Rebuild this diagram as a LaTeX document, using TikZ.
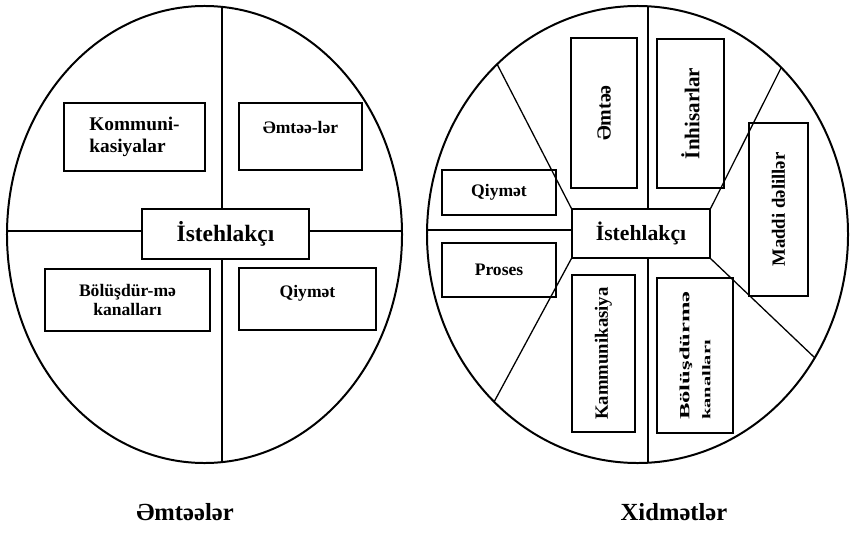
\documentclass[tikz,border=0pt]{standalone}
\usepackage{fontspec}
\setmainfont{Liberation Serif}
\newfontfamily\wideserif[FakeStretch=1.75]{Liberation Serif}
\tikzset{
    % Box styles
    part box/.style={
        draw,
        line width=1.1pt,
        rectangle,
        inner sep=0pt,
        align=center,
        font=\fontsize{15}{18}\selectfont\bfseries
    },
    core box/.style={
        part box,
        font=\fontsize{20}{22}\selectfont\bfseries
    },
    side box/.style={
        part box,
        rotate=90
    },
    % Line styles
    split line/.style={
        line width=1.1pt
    },
    oval line/.style={
        line width=1.7pt
    },
    % Captions
    caption/.style={
        font=\fontsize{21}{23}\selectfont\bfseries
    }
}

\begin{document}
\begin{tikzpicture}[x=0.03cm, y=-0.03cm]
        \useasboundingbox (0,0) rectangle (853,537);

        % Goods
        \draw[oval line] (204.5,234.5) ellipse [x radius=5.925cm, y radius=6.855cm];
        \node[core box, minimum width=5.01cm, minimum height=1.5cm] at (225.5,234) (ctrL) {İstehlakçı};
        \node[part box, align=left, minimum width=4.23cm, minimum height=2.04cm, font=\fontsize{16.5}{19}\selectfont\bfseries] at (134.5,137) (komL) {Kommuni-\\kasiyalar};
        \node[part box, minimum width=3.69cm, text height=0.9cm, text depth=1.11cm] at (300.5,136.5) (emtL) {Əmtəə-lər};
        \node[part box, minimum width=4.95cm, minimum height=1.86cm, font=\fontsize{15}{17}\selectfont\bfseries] at (127.5,300) (bolL) {Bölüşdür-mə\\kanalları};
        \node[part box, minimum width=4.11cm, text height=0.87cm, text depth=0.99cm] at (307.5,299) (qiyL) {Qiymət};

        \coordinate (vLt) at (222,6.9);
        \coordinate (vLb) at (222,462.1);
        \coordinate (hLl) at (7,231);
        \coordinate (hLr) at (402,231);
        \draw[split line] (vLt) -- (vLt |- ctrL.north);
        \draw[split line] (vLb |- ctrL.south) -- (vLb);
        \draw[split line] (hLl) -- (hLl -| ctrL.west);
        \draw[split line] (hLr -| ctrL.east) -- (hLr);

        % Services
        \draw[oval line] (637.5,234.5) ellipse [x radius=6.315cm, y radius=6.855cm];
        \node[core box, minimum width=4.14cm, minimum height=1.47cm, font=\fontsize{18.5}{20}\selectfont\bfseries] at (641,233.5) (ctrR) {İstehlakçı};
        \node[part box, minimum width=3.42cm, minimum height=1.35cm] at (499,192.5) (qiyR) {Qiymət};
        \node[part box, minimum width=3.42cm, minimum height=1.62cm] at (499,270) (proR) {Proses};
        \foreach \nm/\x/\y/\w/\h/\fs/\txt in {emtR/604/113/4.5/1.98/17/Əmtəə, inhR/690.5/113.5/4.47/2.01/18/İnhisarlar, madR/778.5/209.5/5.19/1.77/16/Maddi dəlillər, kamR/603.5/353.5/4.71/1.89/16/Kammunikasiya} {
            \node[side box, minimum width=\w cm, minimum height=\h cm, font=\fontsize{\fs}{\fs}\selectfont\bfseries] at (\x,\y) (\nm) {\txt};
        }
        \node[side box, align=left, minimum width=4.65cm, minimum height=2.28cm, font=\wideserif\bfseries\fontsize{12}{14}\selectfont] at (695,355.5) (bolR) {Bölüşdürmə\\[4pt]{\fontsize{10}{12}\selectfont kanalları}};

        \coordinate (vRt) at (648,6.3);
        \coordinate (vRb) at (648,462.7);
        \coordinate (hRl) at (427,230);
        \coordinate (dUL) at (497,64);
        \coordinate (dLL) at (494,402);
        \coordinate (dUR) at (781,68);
        \coordinate (dLR) at (815,358);
        \draw[split line] (vRt) -- (vRt |- ctrR.north);
        \draw[split line] (vRb |- ctrR.south) -- (vRb);
        \draw[split line] (hRl) -- (hRl -| ctrR.west);
        \draw[split line] (ctrR.north west) -- (dUL);
        \draw[split line] (ctrR.south west) -- (dLL);
        \draw[split line] (ctrR.north east) -- (dUR);
        \draw[split line] (ctrR.south east) -- (dLR);

        % Captions
        \node[caption] at (185,512) (capL) {Əmtəələr};
        \node[caption] at (674,512) (capR) {Xidmətlər};
    \end{tikzpicture}
\end{document}
